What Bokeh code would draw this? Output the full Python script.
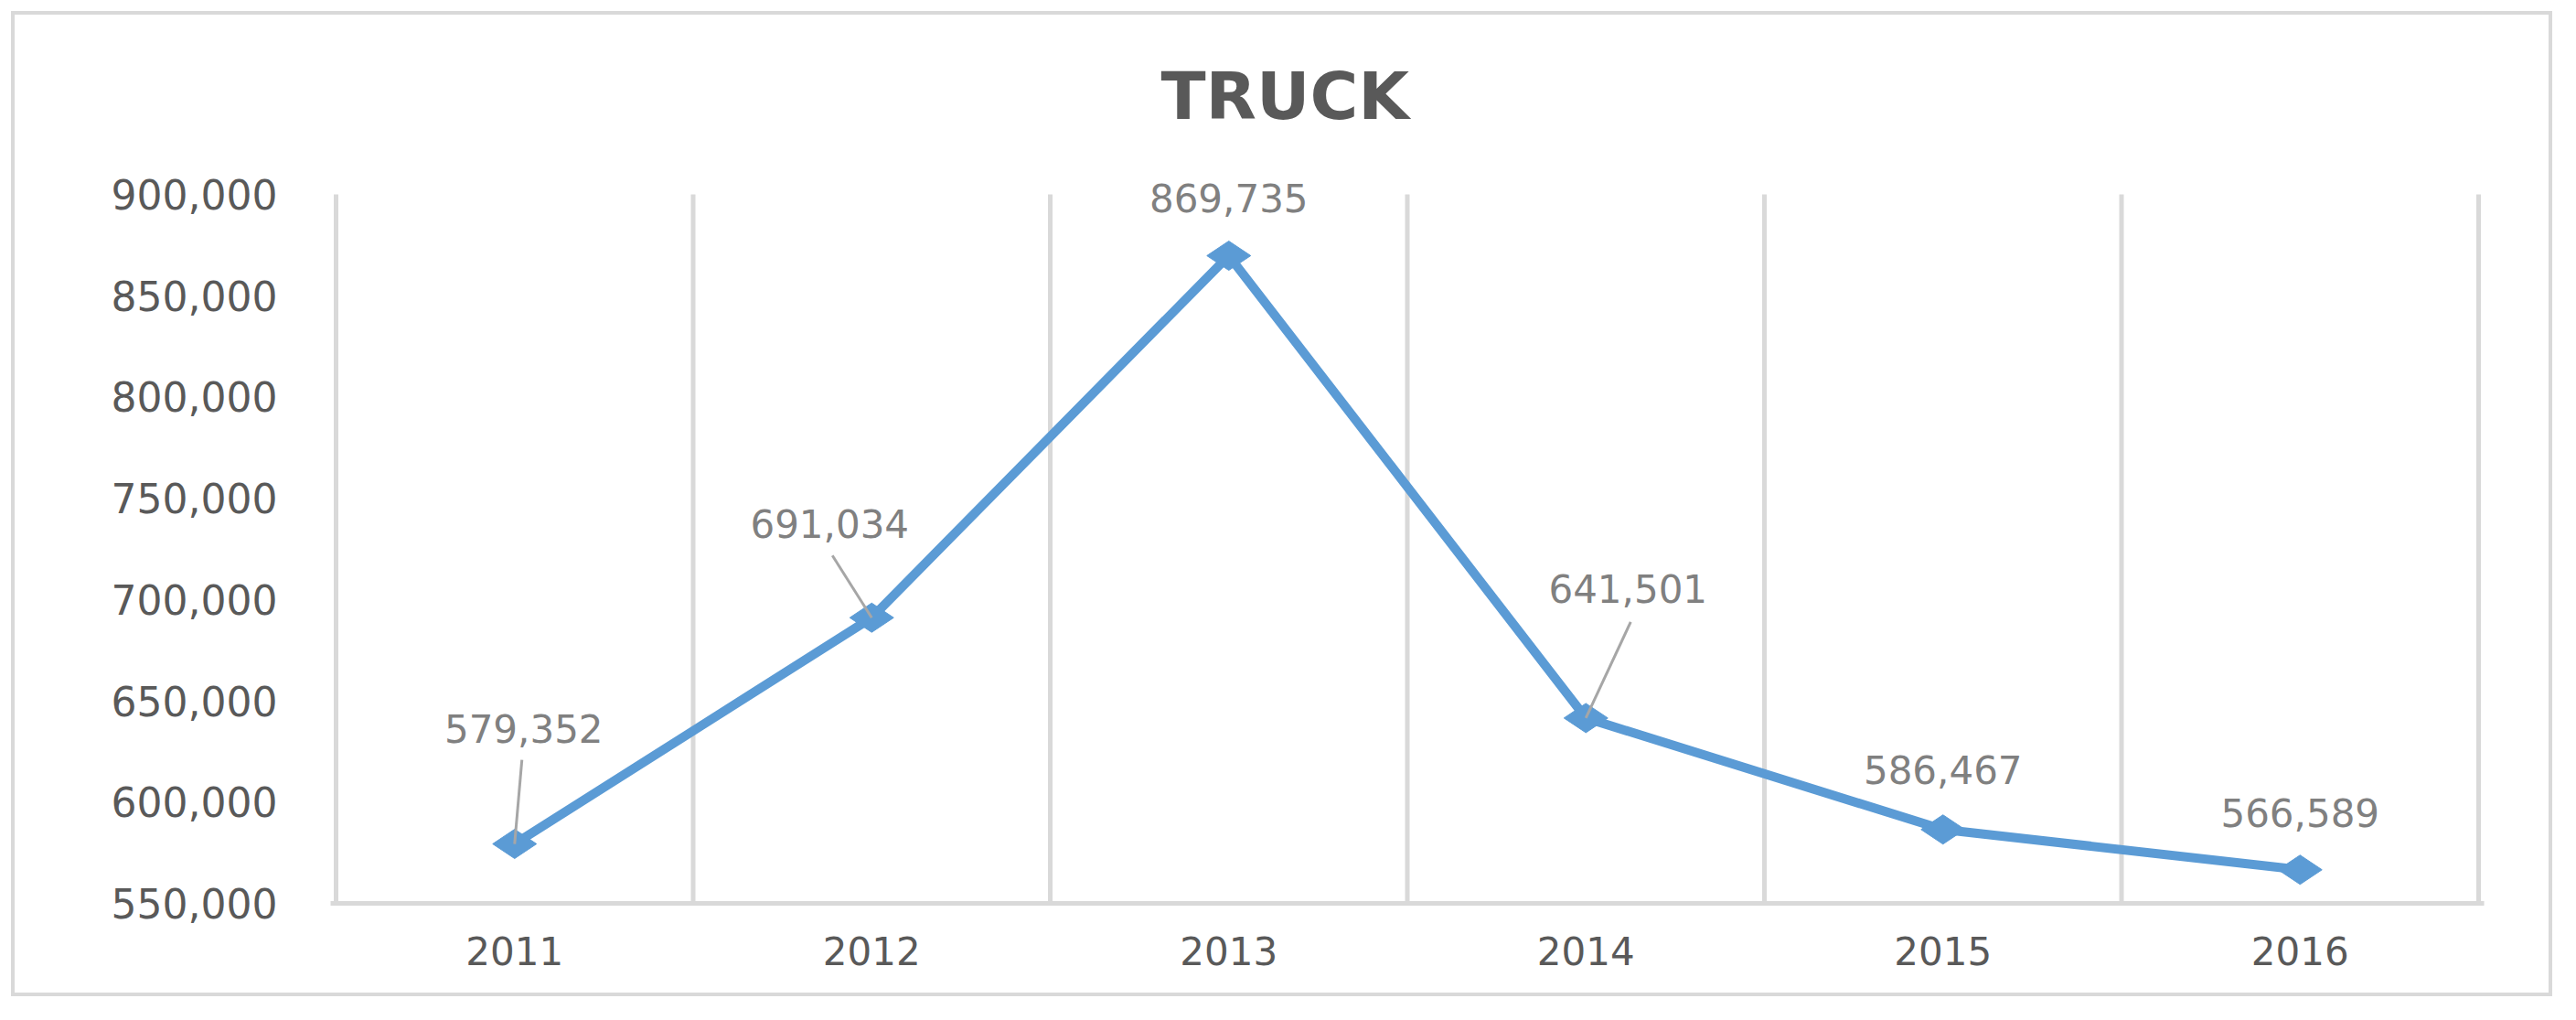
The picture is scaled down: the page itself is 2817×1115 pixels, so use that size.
import numpy as np
from bokeh.plotting import figure
from bokeh.models import Range1d, FixedTicker, NumeralTickFormatter, ColumnDataSource, LabelSet
from bokeh.core.properties import value
from bokeh.embed import file_html
from bokeh.resources import INLINE

# ---- data ----
years = ["2011", "2012", "2013", "2014", "2015", "2016"]
trucks = [579352, 691034, 869735, 641501, 586467, 566589]
y_ticks = [550000, 600000, 650000, 700000, 750000, 800000, 850000, 900000]

# ---- label placement (screen px, styling) ----
lab_dx = [10, -46, 0, 46, 0, 0]
lab_dy = [-126, -103, -63, -141, -65, -62]
leader = [True, True, False, True, False, False]
lead_dx = [8, -43, 0, 49, 0, 0]
lead_dy = [-92, -68, 0, -105, 0, 0]

PAD = 6       # px of frame beyond the outer grid lines
HEAD = 62     # px of frame above the top tick (room for labels)
W, H = 2779, 1077
LEFT, RIGHT, TOP, BOTTOM = 351 - PAD, 85 - PAD, 196 - HEAD, 106
frame_w = W - LEFT - RIGHT
frame_h = H - TOP - BOTTOM
ppx = (frame_w - 2 * PAD) / len(years)
ppy = (frame_h - HEAD) / (y_ticks[-1] - y_ticks[0])

xs = [i + 0.5 for i in range(len(years))]
p = figure(width=W, height=H, output_backend="svg", toolbar_location=None,
           x_range=Range1d(-PAD / ppx, len(years) + PAD / ppx),
           y_range=Range1d(y_ticks[0], y_ticks[-1] + HEAD / ppy),
           min_border_left=LEFT, min_border_right=RIGHT,
           min_border_top=TOP, min_border_bottom=BOTTOM)
p.margin = (12, 0, 0, 12)
p.styles = {"border": "4px solid #d9d9d9"}
p.outline_line_color = None

p.title.text = "TRUCK"
p.title.align = "left"
p.title.offset = 902 + PAD
p.title.standoff = 8
p.title.text_font = "DejaVu Sans"
p.title.text_font_style = "bold"
p.title.text_font_size = "72px"
p.title.text_color = "#595959"

axis_font = "DejaVu Sans"
# x axis
p.xaxis.ticker = FixedTicker(ticks=xs)
p.xaxis.major_label_overrides = {x: y for x, y in zip(xs, years)}
p.xaxis.axis_line_color = "#d9d9d9"
p.xaxis.axis_line_width = 5
p.xaxis.major_tick_line_color = None
p.xaxis.minor_tick_line_color = None
p.xaxis.major_label_text_font = axis_font
p.xaxis.major_label_text_font_size = "42px"
p.xaxis.major_label_text_color = "#595959"
p.xaxis.major_label_standoff = 30

# y axis
p.yaxis.ticker = FixedTicker(ticks=y_ticks)
p.yaxis.formatter = NumeralTickFormatter(format="0,0")
p.yaxis.axis_line_color = None
p.yaxis.major_tick_line_color = None
p.yaxis.minor_tick_line_color = None
p.yaxis.major_label_text_font = axis_font
p.yaxis.major_label_text_font_size = "44px"
p.yaxis.major_label_text_color = "#595959"
p.yaxis.major_label_standoff = 52

# vertical grid lines at category boundaries, spanning the value axis only
p.ygrid.grid_line_color = None
p.xgrid.grid_line_color = None
gx = list(range(len(years) + 1))
p.segment(x0=gx, y0=[y_ticks[0]] * len(gx), x1=gx, y1=[y_ticks[-1]] * len(gx),
          line_color="#d9d9d9", line_width=5)

src = ColumnDataSource(dict(x=xs, y=trucks, lab=[f"{v:,}" for v in trucks],
                            dx=lab_dx, dy=[-d for d in lab_dy]))
p.line("x", "y", source=src, line_color="#5b9bd5", line_width=10, line_join="round")
p.scatter("x", "y", source=src, marker="diamond", size=48, angle=np.pi / 2,
          fill_color="#5b9bd5", line_color="#5b9bd5")

# leader lines
lx0 = [xs[i] for i in range(len(xs)) if leader[i]]
ly0 = [trucks[i] for i in range(len(xs)) if leader[i]]
lx1 = [xs[i] + lead_dx[i] / ppx for i in range(len(xs)) if leader[i]]
ly1 = [trucks[i] - lead_dy[i] / ppy for i in range(len(xs)) if leader[i]]
p.segment(x0=lx0, y0=ly0, x1=lx1, y1=ly1, line_color="#a6a6a6", line_width=3)

labels = LabelSet(x="x", y="y", text="lab", source=src, x_offset="dx", y_offset="dy",
                  text_align="center", text_baseline="middle",
                  text_font=value(axis_font), text_font_size="42px", text_color="#808080")
p.add_layout(labels)

open("out.html", "w").write(file_html(p, INLINE))
